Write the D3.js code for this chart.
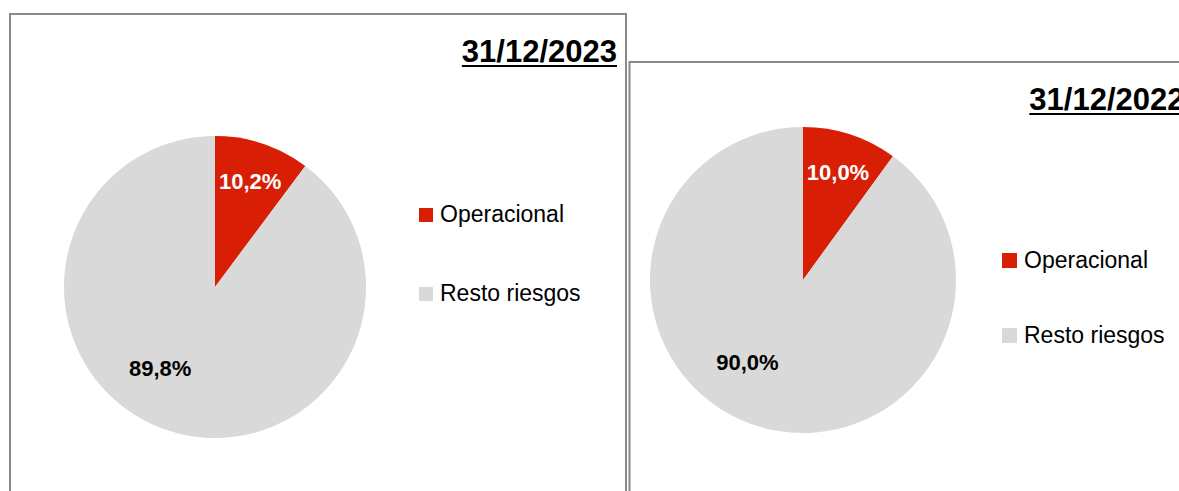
<!DOCTYPE html>
<html>
<head>
<meta charset="utf-8">
<script src="https://cdn.jsdelivr.net/npm/d3@7"></script>
<style>
  html, body { margin: 0; padding: 0; background: #fff; overflow: hidden; }
  text { font-family: 'Liberation Sans', Arial, sans-serif; }
</style>
</head>
<body>
<div id="js-chart-container"></div>
<script>
// Data
const categories = ['Operacional', 'Resto riesgos'];
const dates = ['31/12/2023', '31/12/2022'];
const values2023 = [10.2, 89.8];
const values2022 = [10.0, 90.0];
const seriesList = [values2023, values2022];

const colors = ['#d81e05', '#d9d9d9'];
const labelColors = ['#fff', '#000'];

// Layout of the two panels (positions only)
const panels = [
  { x: 10, y: 14, w: 616, h: 500, cx: 215, cy: 287, r: 151,
    legX: 419, legY: 208, legGap: 79, sq: 14 },
  { x: 629.5, y: 62, w: 564, h: 460, cx: 803, cy: 280, r: 153,
    legX: 1002, legY: 253, legGap: 75, sq: 15 }
];
// label placement: radius fraction and angle (null = slice middle)
const labelR = [0.74, 0.65];
const labelAngle = [null, 214];

const W = 1179, H = 491;
const svg = d3
  .select('#js-chart-container')
  .append('svg')
  .attr('width', W)
  .attr('height', H);

const esFormat = d3.formatLocale({ decimal: ',', thousands: '.', grouping: [3], currency: ['', ''] });
const fmt = esFormat.format('.1f');

const pie = d3.pie().sort(null).value(function(d) { return d; });

panels.forEach(function(p, k) {
  const g = svg.append('g');

  // panel frame
  g.append('rect')
    .attr('x', p.x)
    .attr('y', p.y)
    .attr('width', p.w)
    .attr('height', p.h)
    .attr('fill', '#fff')
    .attr('stroke', '#8a8a8a')
    .attr('stroke-width', 2);

  // title, right-aligned and underlined
  const tx = p.x + p.w - 9;
  const ty = p.y + 47.5;
  const title = g.append('text')
    .attr('x', tx)
    .attr('y', ty)
    .attr('text-anchor', 'end')
    .attr('font-size', '31px')
    .attr('font-weight', 'bold')
    .attr('fill', '#000')
    .text(dates[k]);
  const tw = title.node().getComputedTextLength();
  g.append('line')
    .attr('x1', tx - tw)
    .attr('x2', tx)
    .attr('y1', ty + 4.5)
    .attr('y2', ty + 4.5)
    .attr('stroke', '#000')
    .attr('stroke-width', 2);

  // pie
  const arcs = pie(seriesList[k]);
  const arc = d3.arc().innerRadius(0).outerRadius(p.r);
  const pg = g.append('g').attr('transform', 'translate(' + p.cx + ',' + p.cy + ')');
  pg.selectAll('path')
    .data(arcs)
    .enter()
    .append('path')
    .attr('d', arc)
    .attr('fill', function(d, i) { return colors[i]; });

  // data labels
  pg.selectAll('text.lbl')
    .data(arcs)
    .enter()
    .append('text')
    .attr('class', 'lbl')
    .attr('transform', function(d, i) {
      const a = labelAngle[i] === null ? (d.startAngle + d.endAngle) / 2 : labelAngle[i] * Math.PI / 180;
      const rr = p.r * labelR[i];
      return 'translate(' + (Math.sin(a) * rr) + ',' + (-Math.cos(a) * rr) + ')';
    })
    .attr('text-anchor', 'middle')
    .attr('dy', '0.35em')
    .attr('font-size', '22px')
    .attr('font-weight', 'bold')
    .attr('fill', function(d, i) { return labelColors[i]; })
    .text(function(d) { return fmt(d.data) + '%'; });

  // legend
  const leg = g.selectAll('g.leg')
    .data(categories)
    .enter()
    .append('g')
    .attr('class', 'leg')
    .attr('transform', function(d, i) {
      return 'translate(' + p.legX + ',' + (p.legY + i * p.legGap) + ')';
    });
  leg.append('rect')
    .attr('width', p.sq)
    .attr('height', p.sq)
    .attr('fill', function(d, i) { return colors[i]; });
  leg.append('text')
    .attr('x', p.sq + 7)
    .attr('y', p.sq)
    .attr('font-size', '23px')
    .attr('fill', '#000')
    .text(function(d) { return d; });
});
</script>
</body>
</html>
